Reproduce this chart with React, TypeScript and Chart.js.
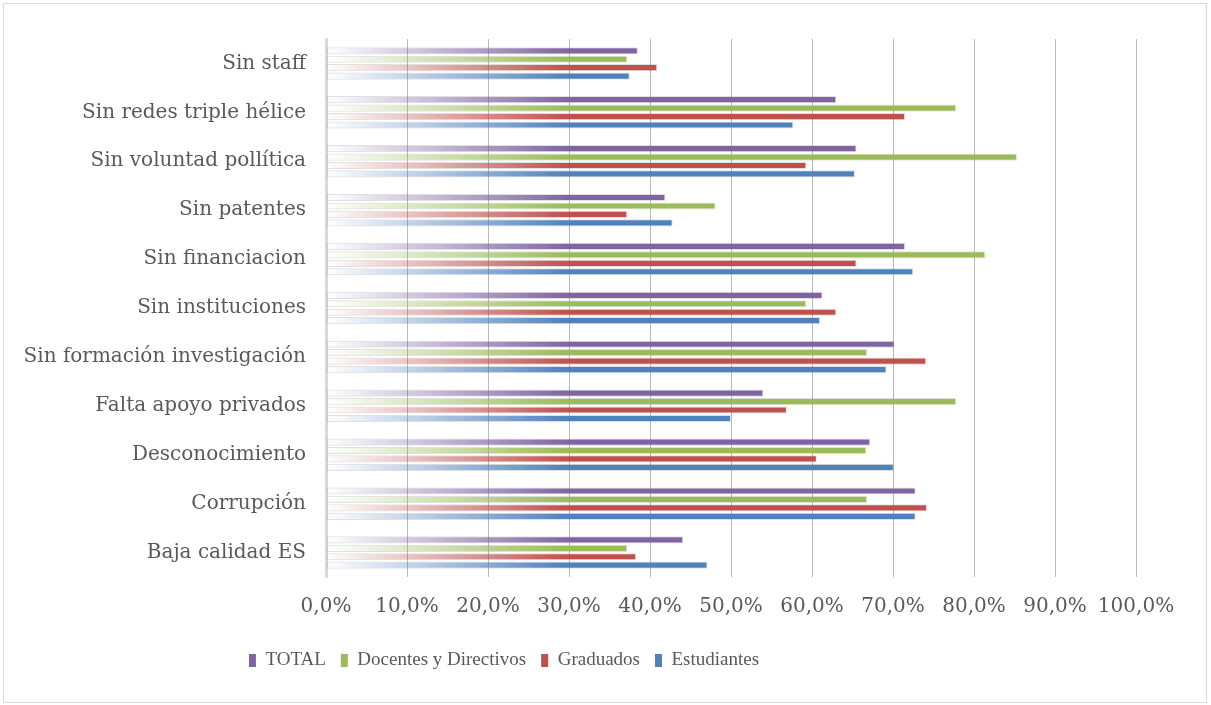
import React, { useEffect, useRef } from 'react';
import { Chart, registerables } from 'chart.js';

Chart.register(...registerables);

const categories = [
  'Sin staff',
  'Sin redes triple hélice',
  'Sin voluntad pollítica',
  'Sin patentes',
  'Sin financiacion',
  'Sin instituciones',
  'Sin formación investigación',
  'Falta apoyo privados',
  'Desconocimiento',
  'Corrupción',
  'Baja calidad ES',
];

const seriesNames = ['TOTAL', 'Docentes y Directivos', 'Graduados', 'Estudiantes'];

const totalValues = [38.5, 63.0, 65.5, 41.9, 71.5, 61.3, 70.2, 54.0, 67.2, 72.8, 44.1];
const docentesValues = [37.2, 77.8, 85.3, 48.1, 81.4, 59.3, 66.8, 77.8, 66.7, 66.8, 37.2];
const graduadosValues = [40.9, 71.5, 59.3, 37.2, 65.5, 63.0, 74.1, 56.9, 60.6, 74.2, 38.3];
const estudiantesValues = [37.5, 57.7, 65.3, 42.8, 72.5, 61.0, 69.2, 50.0, 70.1, 72.8, 47.1];

const xTickLabels = ['0,0%', '10,0%', '20,0%', '30,0%', '40,0%', '50,0%', '60,0%', '70,0%', '80,0%', '90,0%', '100,0%'];

const seriesColors: [number, number, number][] = [
  [128, 100, 162],
  [155, 187, 89],
  [192, 80, 77],
  [79, 129, 189],
];

const FONT = "'DejaVu Serif', serif";
const LEGEND_FONT = "'Liberation Serif', serif";
const TEXT = '#595959';

const rgba = (c: [number, number, number], a: number) => `rgba(${c[0]},${c[1]},${c[2]},${a})`;

const makeBg = (c: [number, number, number]) => (ctx: any) => {
  const chart = ctx.chart;
  const area = chart.chartArea;
  if (!area) return rgba(c, 1);
  const w = area.right - area.left;
  const g = chart.ctx.createLinearGradient(area.left, 0, area.left + w * 0.3, 0);
  g.addColorStop(0, rgba(c, 0));
  g.addColorStop(0.45, rgba(c, 0.45));
  g.addColorStop(1, rgba(c, 1));
  return g;
};

const legendShift = {
  id: 'legendShift',
  afterLayout(chart: any) {
    const lg = chart.legend;
    if (!lg) return;
    lg.left -= 64;
    lg.right -= 64;
  },
};

export default function App() {
  const ref = useRef<HTMLCanvasElement | null>(null);

  useEffect(() => {
    if (!ref.current) return;
    const valueSets = [totalValues, docentesValues, graduadosValues, estudiantesValues];
    const chart = new Chart(ref.current, {
      type: 'bar',
      data: {
        labels: categories,
        datasets: seriesNames.map((name, i) => ({
          label: name,
          data: valueSets[i],
          backgroundColor: makeBg(seriesColors[i]),
          borderColor: 'rgba(0,0,0,0.12)',
          borderWidth: 1,
          borderSkipped: false,
          barPercentage: 0.85,
          categoryPercentage: 0.69,
        })),
      },
      options: {
        indexAxis: 'y',
        responsive: false,
        animation: false,
        devicePixelRatio: 1,
        layout: { padding: { top: 39, left: 0, right: 75, bottom: 25 } },
        scales: {
          x: {
            min: 0,
            max: 100,
            z: 1,
            afterFit: (s: any) => { s.height = 59; },
            ticks: {
              stepSize: 10,
              padding: 18,
              maxRotation: 0,
              minRotation: 0,
              autoSkip: false,
              color: TEXT,
              font: { family: FONT, size: 20 },
              callback: (_v: any, i: number) => xTickLabels[i],
            },
            grid: { color: 'rgba(140,140,140,0.6)', lineWidth: 1, drawTicks: false },
            border: { display: false },
          },
          y: {
            afterFit: (s: any) => { s.width = 326; },
            ticks: {
              padding: 20,
              color: TEXT,
              font: { family: FONT, size: 20 },
            },
            grid: { display: false, drawTicks: false },
            border: { display: true, color: '#d9d9d9', width: 3 },
          },
        },
        plugins: {
          tooltip: { enabled: false },
          legend: {
            position: 'bottom',
            labels: {
              color: TEXT,
              font: { family: LEGEND_FONT, size: 19 },
              boxWidth: 7,
              boxHeight: 13,
              padding: 15,
              generateLabels: (ch: any) => {
                const items = Chart.defaults.plugins.legend.labels.generateLabels(ch);
                return items.map((it: any, i: number) => ({
                  ...it,
                  fillStyle: rgba(seriesColors[i], 1),
                  strokeStyle: rgba(seriesColors[i], 1),
                  lineWidth: 0,
                }));
              },
            },
          },
        },
      },
      plugins: [legendShift],
    });
    return () => chart.destroy();
  }, []);

  return (
    <div style={{ position: 'absolute', left: 0, top: 0, width: 1211, height: 705, background: '#fff' }}>
      <div
        style={{
          position: 'absolute',
          left: 3,
          top: 3,
          width: 1204,
          height: 700,
          border: '1px solid #d9d9d9',
          boxSizing: 'border-box',
        }}
      />
      <canvas ref={ref} width={1211} height={705} style={{ position: 'absolute', left: 0, top: 0 }} />
    </div>
  );
}
